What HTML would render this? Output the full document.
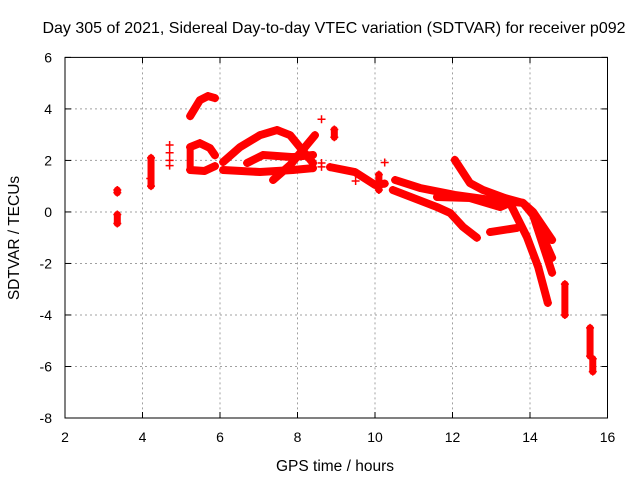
<!DOCTYPE html>
<html><head><meta charset="utf-8"><style>
body{margin:0;background:#fff;width:640px;height:480px;overflow:hidden}
text{font-family:"Liberation Sans",sans-serif;fill:#000}
</style></head><body>
<svg id="chart" width="640" height="480" xmlns="http://www.w3.org/2000/svg">
<rect width="640" height="480" fill="#fff"/>
<text x="334" y="33" font-size="16" text-anchor="middle">Day 305 of 2021, Sidereal Day-to-day VTEC variation (SDTVAR) for receiver p092</text>
<text x="335" y="471" font-size="15.5" text-anchor="middle">GPS time / hours</text>
<text transform="translate(19,238) rotate(-90)" font-size="15.5" text-anchor="middle">SDTVAR / TECUs</text>
<g id="grid"></g><g id="marks"></g><g id="axes"></g>
</svg>
<script>
const xTicks=[2,4,6,8,10,12,14,16];
const yTicks=[-8,-6,-4,-2,0,2,4,6];
const trackHump=[[6.08,1.94],[6.52,2.52],[7.03,2.98],[7.47,3.18],[7.81,2.98],[8.06,2.52],[8.4,1.9]];
const trackRise=[[7.37,1.24],[7.81,1.82],[8.45,2.98]];
const trackMid=[[6.7,1.9],[7.11,2.21],[7.88,2.13],[8.4,2.21]];
const trackLow=[[6.08,1.63],[7.03,1.55],[7.88,1.63],[8.4,1.7]];
const trackEarlyUp=[[5.23,3.72],[5.48,4.34],[5.69,4.5],[5.87,4.42]];
const trackEarlyA=[[5.23,2.52],[5.48,2.67],[5.74,2.48],[5.87,2.2]];
const trackEarlyB=[[5.23,1.63],[5.6,1.59],[5.87,1.78]];
const trackNine=[[8.84,1.74],[9.48,1.55],[10.0,1.05],[10.25,1.1]];
const trackUpper=[[10.52,1.24],[11.16,0.93],[12.06,0.66],[12.97,0.47],[13.82,0.35],[14.08,0],[14.57,-1.09]];
const trackTwelve=[[12.06,2.02],[12.45,1.12],[12.79,0.85],[13.35,0.54],[13.82,0.35],[14.08,-0.12],[14.57,-1.78]];
const trackBranch=[[14.08,-0.12],[14.57,-2.36]];
const trackLower=[[10.46,0.85],[11.6,0.19],[11.94,-0.04],[12.27,-0.58],[12.63,-1.0]];
const trackMiddle=[[11.6,0.58],[12.45,0.54],[13.23,0.19],[13.48,0.35]];
const trackSteep=[[13.48,0.35],[13.92,-0.97],[14.21,-2.13],[14.46,-3.53]];
const trackThirteen=[[12.97,-0.78],[13.66,-0.62]];
const clusters=[[3.35,0.75,0.85],[3.35,-0.45,-0.1],[4.22,1.0,2.1],[8.95,2.9,3.2],[10.1,0.85,1.45],[14.9,-4.0,-2.8],[15.55,-5.6,-4.5],[15.62,-6.2,-5.7],[5.23,1.65,2.5]];
const singles=[[4.7,2.6],[4.7,2.3],[4.7,2.0],[4.7,1.8],[8.62,3.6],[8.62,1.9],[8.62,1.75],[10.25,1.92],[4.2,1.3],[9.5,1.2]];
const X=v=>65+(v-2)*(542.5/14), Y=v=>57.4+(6-v)*(360.6/14);
const NS="http://www.w3.org/2000/svg";
function mk(t,a,p){const e=document.createElementNS(NS,t);for(const k in a)e.setAttribute(k,a[k]);p.appendChild(e);return e;}
const grid=document.getElementById('grid'),axes=document.getElementById('axes'),marks=document.getElementById('marks');
xTicks.forEach(t=>{
 if(t>2&&t<16){const g=mk('line',{x1:X(t),x2:X(t),y1:57.4,y2:418,stroke:'#a0a0a0','stroke-dasharray':'2,3'},grid);
 
 }
 const l=mk('text',{x:X(t),y:442,'font-size':14,'text-anchor':'middle'},axes);l.textContent=t;
 
 
 mk('line',{x1:X(t),x2:X(t),y1:418,y2:412,stroke:'#000'},axes);
 mk('line',{x1:X(t),x2:X(t),y1:57.4,y2:63,stroke:'#000'},axes);
});
yTicks.forEach(t=>{
 if(t>-8&&t<6){const g=mk('line',{x1:65,x2:607.5,y1:Y(t),y2:Y(t),stroke:'#a0a0a0','stroke-dasharray':'2,3'},grid);
 
 }
 const l=mk('text',{x:52,y:Y(t)+5,'font-size':14,'text-anchor':'end'},axes);l.textContent=t;
 
 
 mk('line',{x1:65,x2:71,y1:Y(t),y2:Y(t),stroke:'#000'},axes);
 mk('line',{x1:601.5,x2:607.5,y1:Y(t),y2:Y(t),stroke:'#000'},axes);
});
const fr=mk('rect',{x:65,y:57.4,width:542.5,height:360.6,fill:'none',stroke:'#000','stroke-width':1},axes);


function plus(x,y){mk('path',{d:`M${x-4},${y}h8M${x},${y-4}v8`,stroke:'#f00','stroke-width':1.5},marks);}
const tracks=[trackHump,trackRise,trackMid,trackLow,trackEarlyUp,trackEarlyA,trackEarlyB,trackNine,trackUpper,trackTwelve,trackBranch,trackLower,trackMiddle,trackSteep,trackThirteen];
tracks.forEach(tr=>{
 const p=mk('polyline',{points:tr.map(d=>X(d[0])+','+Y(d[1])).join(' '),fill:'none',stroke:'#f00','stroke-width':8,'stroke-linejoin':'round','stroke-linecap':'round'},marks);
 
 
 tr.forEach(d=>plus(X(d[0]),Y(d[1])));
});
clusters.forEach(c=>{
 const p=mk('line',{x1:X(c[0]),x2:X(c[0]),y1:Y(c[1]),y2:Y(c[2]),stroke:'#f00','stroke-width':7,'stroke-linecap':'round'},marks);
 
 
 plus(X(c[0]),Y(c[1]));plus(X(c[0]),Y(c[2]));
});
singles.forEach(s=>plus(X(s[0]),Y(s[1])));
</script>
</body></html>
